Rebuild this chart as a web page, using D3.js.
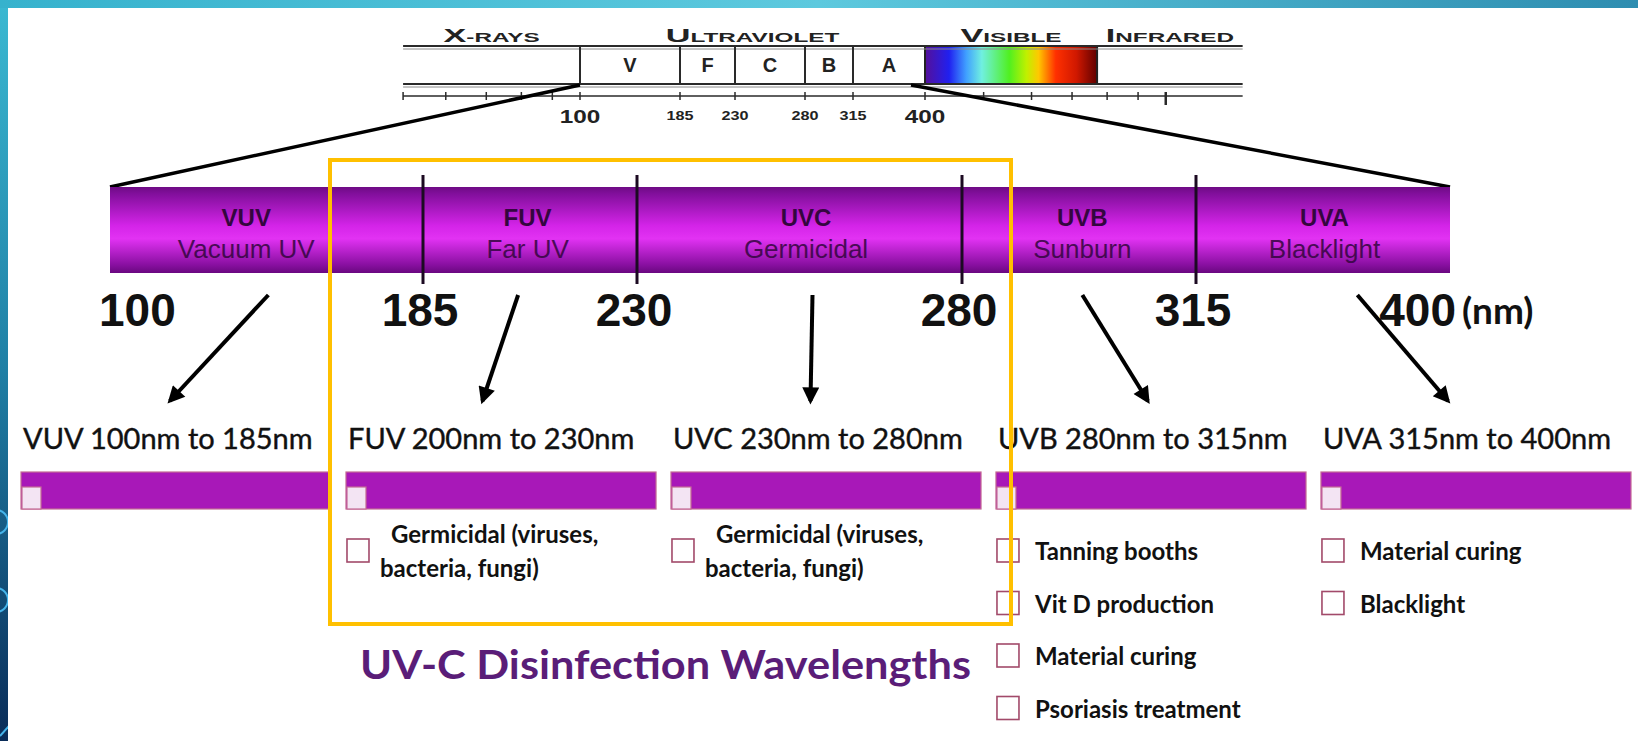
<!DOCTYPE html>
<html lang="en">
<head>
<meta charset="UTF-8">
<title>UV-C Disinfection Wavelengths</title>
<script src="https://cdnjs.cloudflare.com/ajax/libs/d3/7.8.5/d3.min.js"></script>
<style>
  html, body { margin: 0; padding: 0; background: #fff; overflow: hidden; }
</style>
</head>
<body>
<script>
var width = 1638, height = 741;

// wavelength boundaries of the UV bands (nm)
var bounds = [100, 185, 230, 280, 315, 400];
var bands = ["VUV", "FUV", "UVC", "UVB", "UVA"];
var bandNames = ["Vacuum UV", "Far UV", "Germicidal", "Sunburn", "Blacklight"];
var bandLabelAt = [137, 207, 256, 298, 358];   // where each name sits on the bar (nm)
var rangeLabels = ["VUV 100nm to 185nm", "FUV 200nm to 230nm", "UVC 230nm to 280nm",
                   "UVB 280nm to 315nm", "UVA 315nm to 400nm"];
var uses = [
  [],
  [["Germicidal (viruses,", "bacteria, fungi)"]],
  [["Germicidal (viruses,", "bacteria, fungi)"]],
  [["Tanning booths"], ["Vit D production"], ["Material curing"], ["Psoriasis treatment"]],
  [["Material curing"], ["Blacklight"]]
];

// small overview spectrum
var spectrumExtent = [51, 1340];
var regionNames = [["X", "-RAYS"], ["U", "LTRAVIOLET"], ["V", "ISIBLE"], ["I", "NFRARED"]];
var regionBounds = [[51, 100], [100, 400], [400, 770], [770, 1340]];
var uvLetters = ["V", "F", "C", "B", "A"];
var xrayTicks = [51, 60, 70, 80, 90];
var irTicks = [500, 600, 700, 800, 900, 1000];
var visibleStops = [[0, "#55109a"], [0.14, "#2020f0"], [0.24, "#40a0ff"], [0.33, "#70f0e0"],
                    [0.49, "#50f020"], [0.59, "#c0f000"], [0.66, "#ffc800"], [0.76, "#ff3000"],
                    [0.88, "#d01800"], [1, "#600000"]];

// arrows: start wavelength on the big bar, end as fraction of the column
var arrowFrom = [143, 205, 257, 298, 369];
var arrowTo = [0.48, 0.44, 0.45, 0.49, 0.41];

var title = "UV-C Disinfection Wavelengths";

var svg = d3.select("body").append("svg")
    .attr("width", width)
    .attr("height", height)
    .style("display", "block");
var defs = svg.append("defs");

function linGrad(id, x2, y2, stops) {
  var g = defs.append("linearGradient").attr("id", id)
      .attr("x1", 0).attr("y1", 0).attr("x2", x2).attr("y2", y2);
  stops.forEach(function(s) { g.append("stop").attr("offset", s[0]).attr("stop-color", s[1]); });
}
linGrad("topbar", 1, 0, [[0, "#36b2cd"], [0.5, "#5dc9de"], [1, "#2e8db0"]]);
linGrad("leftbar", 0, 1, [[0, "#3bb9d2"], [0.5, "#1f7fa5"], [1, "#0a2c58"]]);
linGrad("visible", 1, 0, visibleStops);
linGrad("uvbar", 0, 1, [[0, "#6e0b84"], [0.08, "#820f9c"], [0.45, "#d424e8"], [0.6, "#e232f3"],
                        [0.9, "#8a10a2"], [1, "#6a0880"]]);

defs.append("marker").attr("id", "head")
    .attr("viewBox", "0 0 10 10").attr("refX", 8).attr("refY", 5)
    .attr("markerUnits", "userSpaceOnUse").attr("markerWidth", 20).attr("markerHeight", 17)
    .attr("orient", "auto")
  .append("path").attr("d", "M0,0 L10,5 L0,10 Z").attr("fill", "#000");

// slide frame
svg.append("rect").attr("width", width).attr("height", height).attr("fill", "#fff");
var clip = defs.append("clipPath").attr("id", "leftclip");
clip.append("rect").attr("width", 8).attr("height", height);
var left = svg.append("g").attr("clip-path", "url(#leftclip)");
left.append("rect").attr("width", 8).attr("height", height).attr("fill", "url(#leftbar)");
[522, 600].forEach(function(cy) {
  left.append("circle").attr("cx", -4).attr("cy", cy).attr("r", 12)
      .attr("fill", "none").attr("stroke", "#45b4ea").attr("stroke-width", 2);
});
left.append("line").attr("x1", 0).attr("y1", 736).attr("x2", 9).attr("y2", 726)
    .attr("stroke", "#45b4ea").attr("stroke-width", 2);
svg.append("rect").attr("width", width).attr("height", 8).attr("fill", "url(#topbar)");

// ---- small overview spectrum ----
var pxPerDecade = 605;
var uvScale = d3.scaleLinear().domain(bounds).range([580, 680, 735, 805, 853, 925]);
var xrayScale = d3.scaleLog().domain([10, 100]).range([580 - pxPerDecade, 580]);
var irScale = d3.scaleLog().domain([400, 4000]).range([925, 925 + pxPerDecade]);
function xs(nm) { return nm < 100 ? xrayScale(nm) : nm > 400 ? irScale(nm) : uvScale(nm); }

var small = svg.append("g").attr("fill", "#222").attr("stroke", "#2a2a2a");
var yTop = 46, yBot = 84, yAxis = 96;
var sx0 = xs(spectrumExtent[0]), sx1 = xs(spectrumExtent[1]);

small.append("rect").attr("x", xs(400)).attr("y", yTop).attr("width", xs(770) - xs(400))
    .attr("height", yBot - yTop).attr("fill", "url(#visible)").attr("stroke", "#222").attr("stroke-width", 2);
[[yTop, 2], [yTop + 3, 1], [yBot, 2], [yBot + 3, 1], [yAxis, 1.5]].forEach(function(l) {
  small.append("line").attr("x1", sx0).attr("x2", sx1).attr("y1", l[0]).attr("y2", l[0])
      .attr("stroke-width", l[1]).attr("stroke", l[1] < 2 && l[0] !== yAxis ? "#8a8a8a" : "#2a2a2a");
});
small.selectAll(".sep").data(bounds.slice(0, 5)).enter().append("line")
    .attr("x1", xs).attr("x2", xs).attr("y1", yTop).attr("y2", yBot).attr("stroke-width", 2);

var allTicks = xrayTicks.concat(bounds, irTicks);
small.selectAll(".tk").data(allTicks).enter().append("line")
    .attr("x1", xs).attr("x2", xs).attr("y1", yAxis - 4)
    .attr("y2", function(d) { return d === 1000 ? yAxis + 9 : yAxis + 4; })
    .attr("stroke-width", function(d) { return d === 1000 ? 2.5 : 1.5; });

small.selectAll(".tl").data(bounds).enter().append("text")
    .attr("transform", function(d) { return "translate(" + xs(d) + "," + (d === 100 || d === 400 ? 123 : 120) + ") scale(1.35,1)"; })
    .attr("text-anchor", "middle").attr("stroke", "none")
    .style("font", function(d) { return "bold " + (d === 100 || d === 400 ? 18 : 12) + "px 'Liberation Sans', Arial, sans-serif"; })
    .text(function(d) { return d; });

small.selectAll(".lt").data(uvLetters).enter().append("text")
    .attr("x", function(d, i) { return (xs(bounds[i]) + xs(bounds[i + 1])) / 2; })
    .attr("y", 72).attr("text-anchor", "middle").attr("stroke", "none")
    .style("font", "bold 20px 'Liberation Sans', Arial, sans-serif")
    .text(function(d) { return d; });

var rl = small.selectAll(".rn").data(regionNames).enter().append("text")
    .attr("transform", function(d, i) {
      var c = (xs(regionBounds[i][0]) + xs(regionBounds[i][1])) / 2;
      return "translate(" + c + ",42) scale(1.8,1)";
    })
    .attr("text-anchor", "middle").attr("stroke", "none")
    .style("font-family", "'Liberation Sans', Arial, sans-serif").style("font-weight", "bold");
rl.append("tspan").style("font-size", "19px").text(function(d) { return d[0]; });
rl.append("tspan").style("font-size", "13.5px").text(function(d) { return d[1]; });

// ---- big UV bar ----
var xb = d3.scaleLinear().domain(bounds).range([110, 423, 637, 962, 1196, 1450]);
var barTop = 187, barBot = 273;

svg.append("line").attr("x1", xs(100)).attr("y1", yBot + 1).attr("x2", xb(100)).attr("y2", barTop)
    .attr("stroke", "#000").attr("stroke-width", 3.5);
svg.append("line").attr("x1", xs(400) - 14).attr("y1", yBot + 1).attr("x2", xb(400)).attr("y2", barTop)
    .attr("stroke", "#000").attr("stroke-width", 3.5);

svg.append("rect").attr("x", xb(100)).attr("y", barTop)
    .attr("width", xb(400) - xb(100)).attr("height", barBot - barTop).attr("fill", "url(#uvbar)");
svg.selectAll(".bs").data(bounds.slice(1, 5)).enter().append("line")
    .attr("x1", xb).attr("x2", xb).attr("y1", barTop - 12).attr("y2", barBot + 11)
    .attr("stroke", "#1c0a22").attr("stroke-width", 3);

var bl = svg.selectAll(".bl").data(bands).enter().append("g")
    .attr("transform", function(d, i) { return "translate(" + xb(bandLabelAt[i]) + ",0)"; })
    .attr("fill", "#34063f").attr("text-anchor", "middle");
bl.append("text").attr("y", 226).style("font", "bold 24px 'Liberation Sans', Arial, sans-serif")
    .text(function(d) { return d; });
bl.append("text").attr("y", 258).attr("opacity", 0.85)
    .style("font", "26px 'Liberation Sans', Arial, sans-serif")
    .text(function(d, i) { return bandNames[i]; });

svg.selectAll(".nm").data(bounds).enter().append("text")
    .attr("x", function(d, i) { return i === 0 ? xb(d) - 11 : i === bounds.length - 1 ? xb(d) + 6 : xb(d) - 3; })
    .attr("y", 326)
    .attr("text-anchor", function(d, i) { return i === 0 ? "start" : i === bounds.length - 1 ? "end" : "middle"; })
    .attr("fill", "#111")
    .style("font", "bold 46px 'Liberation Sans', Arial, sans-serif")
    .text(function(d) { return d; });
svg.append("text").attr("x", xb(400) + 12).attr("y", 324).attr("fill", "#111")
    .style("font", "bold 37px Lato, 'Open Sans', sans-serif").text("(nm)");

// ---- columns ----
var col = d3.scaleBand().domain(bands).range([21, 1631]).paddingInner(0.046);

svg.selectAll(".ar").data(bands).enter().append("line")
    .attr("x1", function(d, i) { return xb(arrowFrom[i]); })
    .attr("y1", 295)
    .attr("x2", function(d, i) { return col(d) + col.bandwidth() * arrowTo[i]; })
    .attr("y2", 401)
    .attr("stroke", "#000").attr("stroke-width", 4)
    .attr("marker-end", "url(#head)");

var cols = svg.selectAll(".col").data(bands).enter().append("g")
    .attr("transform", function(d) { return "translate(" + col(d) + ",0)"; });

cols.append("text").attr("x", 2).attr("y", 449).attr("fill", "#111")
    .attr("stroke", "#111").attr("stroke-width", 0.4)
    .style("font", "29px Lato, 'Open Sans', sans-serif")
    .text(function(d, i) { return rangeLabels[i]; });

cols.append("rect").attr("x", 0).attr("y", 472).attr("width", col.bandwidth()).attr("height", 37)
    .attr("fill", "#a818b8").attr("stroke", "#c46a94").attr("stroke-width", 1.2);
cols.append("rect").attr("x", 1).attr("y", 487).attr("width", 19).attr("height", 22)
    .attr("fill", "#f3e4f3").attr("stroke", "#c46a94").attr("stroke-width", 1.2);

var items = cols.selectAll(".it").data(function(d, i) { return uses[i]; }).enter().append("g")
    .attr("transform", function(d, j) { return "translate(0," + (551 + j * 52.5) + ")"; });
items.append("rect").attr("x", 1).attr("y", -12).attr("width", 22).attr("height", 23)
    .attr("fill", "#fff").attr("stroke", "#a24a6a").attr("stroke-width", 1.6);
items.selectAll("text").data(function(d) { return d; }).enter().append("text")
    .attr("x", function(d, k, all) { return all.length > 1 ? (k === 0 ? 45 : 34) : 39; })
    .attr("y", function(d, k, all) { return all.length > 1 ? (k === 0 ? -8 : 26) : 9; })
    .attr("fill", "#111")
    .style("font", "bold 24px Lato, 'Open Sans', sans-serif")
    .text(function(d) { return d; });

// UV-C highlight box and caption
svg.append("rect").attr("x", 330).attr("y", 160).attr("width", 681).attr("height", 464)
    .attr("fill", "none").attr("stroke", "#ffc000").attr("stroke-width", 4);
svg.append("text").attr("x", 360).attr("y", 679).attr("textLength", 611)
    .attr("lengthAdjust", "spacingAndGlyphs").attr("fill", "#5a1d78")
    .style("font", "bold 41px Lato, 'Open Sans', sans-serif")
    .text(title);
</script>
</body>
</html>
